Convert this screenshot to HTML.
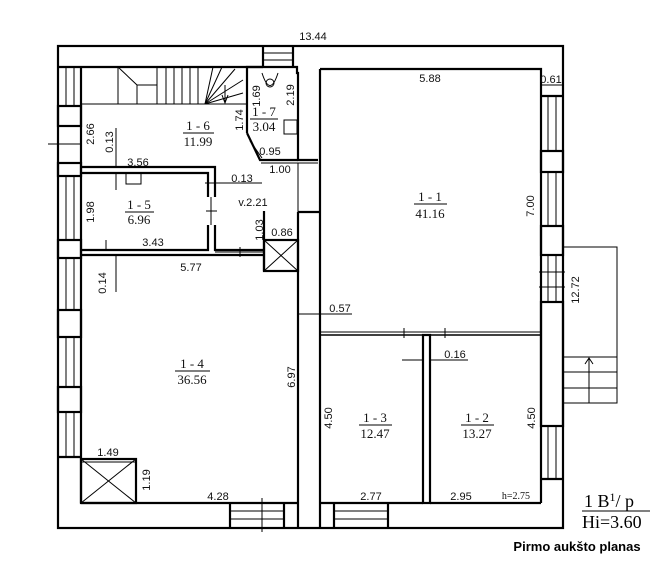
<!DOCTYPE html>
<html><head><meta charset="utf-8"><style>
html,body{margin:0;padding:0;background:#fff;}
svg{display:block}
.d{font-family:"Liberation Sans",sans-serif;font-size:11px;fill:#111}
.r{font-family:"Liberation Serif",serif;font-size:13px;fill:#111}
</style></head><body>
<svg width="670" height="564" viewBox="0 0 670 564" xmlns="http://www.w3.org/2000/svg">
<g fill="none" stroke="#000" stroke-width="2.2">
<rect x="58" y="46" width="505" height="482"/>
<line x1="81" y1="67" x2="263" y2="67"/>
<line x1="263" y1="46" x2="263" y2="67"/>
<line x1="293" y1="46" x2="293" y2="67"/>
<polyline points="247,133 247,67 297,67 297,73 298,73 298,160 318,160"/>
<polyline points="247,133 260,160 298,160"/>
<line x1="81" y1="67" x2="81" y2="503"/>
<polyline points="81,167 215,167 215,197"/>
<polyline points="81,173 208,173 208,197"/>
<polyline points="208,225 208,250 81,250"/>
<polyline points="215,225 215,250 263,250"/>
<polyline points="81,255 263,255"/>
<line x1="264" y1="211" x2="264" y2="271"/>
<rect x="264" y="240" width="34" height="31"/>
<polyline points="298,212 320,212"/>
<line x1="298" y1="212" x2="298" y2="528"/>
<line x1="320" y1="69" x2="320" y2="528"/>
<polyline points="320,69 541,69 541,503"/>
<line x1="320" y1="335" x2="541" y2="335" stroke-width="1.5"/>
<rect x="423" y="335" width="7" height="168"/>
<line x1="81" y1="503" x2="298" y2="503"/>
<line x1="320" y1="503" x2="423" y2="503"/>
<line x1="430" y1="503" x2="541" y2="503"/>
<line x1="541" y1="96" x2="563" y2="96"/>
<rect x="541" y="151" width="22" height="21"/>
<rect x="541" y="226" width="22" height="29"/>
<rect x="541" y="302" width="22" height="124"/>
<line x1="541" y1="479" x2="563" y2="479"/>
<line x1="58" y1="67" x2="81" y2="67"/>
<rect x="58" y="106" width="23" height="20"/>
<rect x="58" y="163" width="23" height="13"/>
<rect x="58" y="240" width="23" height="18"/>
<rect x="58" y="310" width="23" height="27"/>
<rect x="58" y="387" width="23" height="25"/>
<line x1="58" y1="457" x2="81" y2="457"/>
<line x1="230" y1="503" x2="230" y2="528"/>
<line x1="284" y1="503" x2="284" y2="528"/>
<line x1="334" y1="503" x2="334" y2="528"/>
<line x1="388" y1="503" x2="388" y2="528"/>
<rect x="81" y="459" width="55" height="44"/>
</g>
<g fill="none" stroke="#000" stroke-width="1">
<line x1="82" y1="104" x2="247" y2="104"/>
<line x1="118" y1="67" x2="118" y2="104"/>
<polyline points="118,67 137,85 137,104"/>
<line x1="137" y1="85" x2="157" y2="85"/>
<line x1="157" y1="67" x2="157" y2="104"/><line x1="166" y1="67" x2="166" y2="104"/>
<line x1="174" y1="67" x2="174" y2="104"/><line x1="182" y1="67" x2="182" y2="104"/>
<line x1="190" y1="67" x2="190" y2="104"/><line x1="198" y1="67" x2="198" y2="104"/>
<line x1="205" y1="104" x2="213" y2="67"/><line x1="205" y1="104" x2="222" y2="67"/>
<line x1="205" y1="104" x2="235" y2="69"/><line x1="205" y1="104" x2="243" y2="80"/>
<line x1="205" y1="104" x2="243" y2="93"/>
<polyline points="222,95 225,103 228,95"/><line x1="225" y1="85" x2="225" y2="103"/>
<line x1="263" y1="53" x2="293" y2="53"/><line x1="263" y1="60" x2="293" y2="60"/>
<circle cx="270" cy="83" r="4"/>
<path d="M262 73 Q270 98 278 73"/>
<rect x="284" y="120" width="13" height="14"/>
<line x1="261" y1="163" x2="318" y2="163"/>
<line x1="298" y1="163" x2="298" y2="212"/>
<line x1="250" y1="141" x2="262" y2="158"/>
<rect x="126" y="173" width="15" height="11"/>
<line x1="211" y1="197" x2="211" y2="225"/>
<line x1="206" y1="211" x2="217" y2="211"/>
<line x1="215" y1="252" x2="263" y2="252"/>
<line x1="240" y1="247" x2="240" y2="257"/>
<line x1="264" y1="240" x2="298" y2="271"/><line x1="298" y1="240" x2="264" y2="271"/>
<line x1="81" y1="459" x2="136" y2="503"/><line x1="136" y1="459" x2="81" y2="503"/>
<line x1="81" y1="462" x2="136" y2="462"/>
<line x1="320" y1="332" x2="541" y2="332"/>
<line x1="404" y1="328" x2="404" y2="338"/><line x1="445" y1="328" x2="445" y2="338"/>
<line x1="548" y1="96" x2="548" y2="151"/><line x1="556" y1="96" x2="556" y2="151"/>
<line x1="548" y1="172" x2="548" y2="226"/><line x1="556" y1="172" x2="556" y2="226"/>
<line x1="548" y1="255" x2="548" y2="302"/><line x1="556" y1="255" x2="556" y2="302"/>
<line x1="539" y1="272" x2="565" y2="272"/><line x1="539" y1="287" x2="565" y2="287"/>
<line x1="548" y1="426" x2="548" y2="479"/><line x1="556" y1="426" x2="556" y2="479"/>
<line x1="66" y1="67" x2="66" y2="106"/><line x1="74" y1="67" x2="74" y2="106"/>
<line x1="66" y1="176" x2="66" y2="240"/><line x1="74" y1="176" x2="74" y2="240"/>
<line x1="66" y1="258" x2="66" y2="310"/><line x1="74" y1="258" x2="74" y2="310"/>
<line x1="66" y1="337" x2="66" y2="387"/><line x1="74" y1="337" x2="74" y2="387"/>
<line x1="66" y1="412" x2="66" y2="457"/><line x1="74" y1="412" x2="74" y2="457"/>
<line x1="48" y1="144" x2="81" y2="144"/>
<line x1="230" y1="511" x2="284" y2="511"/><line x1="230" y1="519" x2="284" y2="519"/>
<line x1="262" y1="498" x2="262" y2="532"/>
<line x1="334" y1="511" x2="388" y2="511"/><line x1="334" y1="519" x2="388" y2="519"/>
<polyline points="563,247 617,247 617,403 563,403"/>
<line x1="563" y1="357" x2="617" y2="357"/>
<line x1="563" y1="372" x2="617" y2="372"/>
<line x1="563" y1="388" x2="617" y2="388"/>
<line x1="589" y1="403" x2="589" y2="358"/>
<polyline points="585,364 589,358 593,364"/>
<line x1="116" y1="128" x2="116" y2="166"/><line x1="116" y1="174" x2="116" y2="190"/>
<line x1="116" y1="256" x2="116" y2="292"/>
<line x1="106" y1="240" x2="106" y2="250"/>
<line x1="229" y1="183" x2="205" y2="183"/><line x1="218" y1="183" x2="262" y2="183"/>
<line x1="299" y1="314" x2="352" y2="314"/>
<line x1="402" y1="360" x2="423" y2="360"/><line x1="430" y1="360" x2="468" y2="360"/>
<line x1="542" y1="85" x2="562" y2="85"/>
<line x1="582" y1="511" x2="650" y2="511"/>
</g>
<g class="d">
<text x="313" y="40" text-anchor="middle">13.44</text>
<text x="430" y="82" text-anchor="middle">5.88</text>
<text x="551" y="83" text-anchor="middle">0.61</text>
<text x="270" y="155" text-anchor="middle">0.95</text>
<text x="280" y="173" text-anchor="middle">1.00</text>
<text x="138" y="166" text-anchor="middle">3.56</text>
<text x="242" y="182" text-anchor="middle">0.13</text>
<text x="253" y="206" text-anchor="middle">v.2.21</text>
<text x="282" y="236" text-anchor="middle">0.86</text>
<text x="153" y="246" text-anchor="middle">3.43</text>
<text x="191" y="271" text-anchor="middle">5.77</text>
<text x="340" y="312" text-anchor="middle">0.57</text>
<text x="455" y="358" text-anchor="middle">0.16</text>
<text x="108" y="456" text-anchor="middle">1.49</text>
<text x="218" y="500" text-anchor="middle">4.28</text>
<text x="371" y="500" text-anchor="middle">2.77</text>
<text x="461" y="500" text-anchor="middle">2.95</text>
<text x="516" y="499" text-anchor="middle" style="font-family:'Liberation Serif',serif;font-size:10px">h=2.75</text>
<text transform="translate(534,206) rotate(-90)" text-anchor="middle">7.00</text>
<text transform="translate(579,290) rotate(-90)" text-anchor="middle">12.72</text>
<text transform="translate(94,134) rotate(-90)" text-anchor="middle">2.66</text>
<text transform="translate(113,142) rotate(-90)" text-anchor="middle">0.13</text>
<text transform="translate(243,120) rotate(-90)" text-anchor="middle">1.74</text>
<text transform="translate(260,96) rotate(-90)" text-anchor="middle">1.69</text>
<text transform="translate(294,95) rotate(-90)" text-anchor="middle">2.19</text>
<text transform="translate(94,212) rotate(-90)" text-anchor="middle">1.98</text>
<text transform="translate(263,230) rotate(-90)" text-anchor="middle">1.03</text>
<text transform="translate(106,283) rotate(-90)" text-anchor="middle">0.14</text>
<text transform="translate(295,377) rotate(-90)" text-anchor="middle">6.97</text>
<text transform="translate(332,418) rotate(-90)" text-anchor="middle">4.50</text>
<text transform="translate(535,418) rotate(-90)" text-anchor="middle">4.50</text>
<text transform="translate(150,480) rotate(-90)" text-anchor="middle">1.19</text>
</g>
<g class="r" text-anchor="middle">
<text x="430" y="201">1 - 1</text><text x="430" y="218">41.16</text>
<text x="198" y="130">1 - 6</text><text x="198" y="146">11.99</text>
<text x="264" y="116">1 - 7</text><text x="264" y="131">3.04</text>
<text x="139" y="209">1 - 5</text><text x="139" y="224">6.96</text>
<text x="192" y="368">1 - 4</text><text x="192" y="384">36.56</text>
<text x="375" y="422">1 - 3</text><text x="375" y="438">12.47</text>
<text x="477" y="422">1 - 2</text><text x="477" y="438">13.27</text>
</g>
<g stroke="#000" stroke-width="1">
<line x1="183" y1="133" x2="214" y2="133"/><line x1="250" y1="119" x2="278" y2="119"/>
<line x1="125" y1="212" x2="154" y2="212"/><line x1="414" y1="204" x2="447" y2="204"/>
<line x1="175" y1="371" x2="210" y2="371"/><line x1="359" y1="425" x2="392" y2="425"/>
<line x1="461" y1="425" x2="494" y2="425"/>
</g>
<text x="584" y="507" style="font-family:'Liberation Serif',serif;font-size:18px">1 B<tspan font-size="12" dy="-6">1</tspan><tspan dy="6">/ p</tspan></text>
<text x="582" y="528" style="font-family:'Liberation Serif',serif;font-size:18px">Hi=3.60</text>
<text x="577" y="551" text-anchor="middle" style="font-family:'Liberation Sans',sans-serif;font-size:13px;font-weight:bold">Pirmo aukšto planas</text>
</svg>
</body></html>
